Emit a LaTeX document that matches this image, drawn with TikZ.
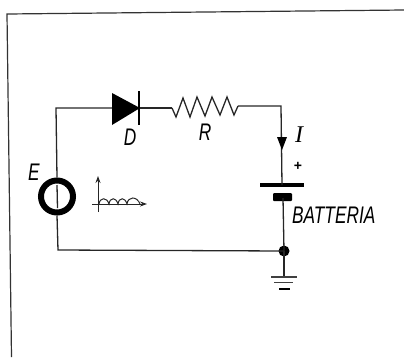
\documentclass[tikz,border=0pt]{standalone}
\usepackage{fontspec}
\setmainfont{Liberation Sans}
\newfontfamily\serifit{Liberation Serif}
\usetikzlibrary{arrows.meta}
\tikzset{
  wire/.style={line width=1.3pt,draw=black!85},
  frameline/.style={line width=1.2pt,draw=black!80},
  lbl/.style={inner sep=0pt,font=\fontsize{24}{24}\selectfont\itshape,xscale=0.72},
  thin axis/.style={line width=1pt,draw=black!85},
}
\begin{document}
\begin{tikzpicture}[x=1pt,y=-1pt]
\useasboundingbox (0,0) rectangle (404,357);
% frame
\coordinate (fa) at (404,10);
\coordinate (fb) at (7,14);
\coordinate (fc) at (11.5,357);
\draw[frameline] (fa) -- (fb) -- (fc);
% generator
\node[circle,draw=black,line width=6pt,minimum size=32pt,inner sep=0pt] (gen) at (57,196.5) {};
\draw[wire] (57,185) -- (57.5,208);
% corners
\coordinate (c1) at (56,108);
\coordinate (c2) at (281,106);
\coordinate (c3) at (58,250);
\node[circle,fill=black,minimum size=11pt,inner sep=0pt] (dot) at (284,251) {};
% diode
\coordinate (dl) at (112,108);
\coordinate (dr) at (140,108);
\fill[black] (112,93) -- (140,108) -- (112,125) -- cycle;
\draw[line width=2.6pt] (139,91) -- (139,125);
% resistor
\coordinate (rl) at (172,108);
\coordinate (rr) at (238,106);
\draw[wire,line join=miter] (rl) -- (176,117) -- (183,98) -- (190,117) -- (197,97) -- (205,116) -- (212,97) -- (220,115) -- (227,97) -- (234,115) -- (rr);
% battery
\coordinate (bp) at (282,185);
\coordinate (bn) at (283,198);
\draw[line width=3.2pt] (260,185) -- (304,185);
\fill[black,rounded corners=1pt] (273,193) rectangle (292,201);
% wires
\draw[wire] (gen.north) -- (c1) -- (dl);
\draw[wire] (dr) -- (rl);
\draw[wire] (rr) -- (c2) -- (bp);
\draw[wire] (bn) -- (dot.center);
\draw[wire] (gen.south) -- (c3) -- (dot.center);
% current arrow
\fill[black] (277,137) -- (287,137) -- (282,150) -- cycle;
% ground
\coordinate (g) at (284,277);
\draw[wire] (dot.center) -- (g);
\draw[line width=1.2pt,black!75] (271,277) -- (297,277);
\draw[line width=1.2pt,black!75] (274,282.5) -- (293,282.5);
\draw[line width=2pt] (279,289) -- (290,289);
% small graph
\coordinate (ga) at (98,212);
\coordinate (gb) at (98,176);
\coordinate (gc) at (92,204);
\coordinate (gd) at (147,204);
\draw[thin axis,-{Stealth[length=7pt,width=5pt]}] (ga) -- (gb);
\draw[thin axis,-{Stealth[length=7pt,width=5pt]}] (gc) -- (gd);
\draw[thin axis] (99,204) .. controls (100,197) and (107,197) .. (109,204)
 .. controls (110,197) and (116,197) .. (118,204)
 .. controls (119,197) and (125,197) .. (127,204)
 .. controls (128,196) and (137,196) .. (140,204);
% labels
\node[lbl] (lE) at (34,172) {E};
\node[lbl] (lD) at (130,137) {D};
\node[lbl] (lR) at (205,132) {R};
\node[inner sep=0pt,font=\fontsize{24}{24}\selectfont\serifit\itshape] (lI) at (299,135) {I};
\node[inner sep=0pt,font=\fontsize{14}{14}\selectfont\bfseries] (lp) at (298,166) {+};
\node[lbl,anchor=west] (lB) at (292,215) {BATTERIA};
\end{tikzpicture}
\end{document}
